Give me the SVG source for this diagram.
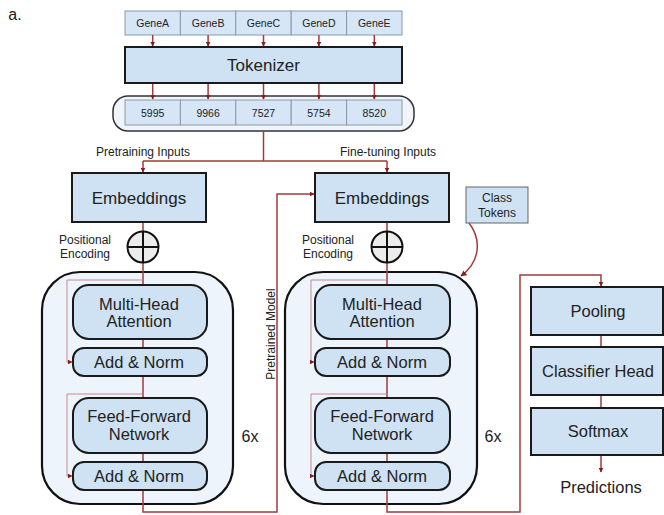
<svg xmlns="http://www.w3.org/2000/svg" width="664" height="515" viewBox="0 0 664 515">
<style>
text{font-family:"Liberation Sans",Arial,sans-serif;fill:#222;text-anchor:middle}
.cell{fill:#d6e6f7;stroke:#8a9aa8;stroke-width:1}
.box{fill:#cfe2f3;stroke:#1a1a1a;stroke-width:2}
.blk{fill:#eef4fb;stroke:#111;stroke-width:2.2}
.con{fill:none;stroke:#a23a3a;stroke-width:1.5}
.res{fill:none;stroke:#c48a8a;stroke-width:1}
.s10{font-size:10.5px}.s12{font-size:12px}.s16{font-size:16.5px}.s17{font-size:17px}
</style>
<defs>
<marker id="ah" viewBox="0 0 10 10" refX="9" refY="5" markerWidth="6" markerHeight="6" orient="auto" markerUnits="userSpaceOnUse">
<path d="M0,0 L10,5 L0,10 z" fill="#8b1a1a"/>
</marker>
<marker id="ahs" viewBox="0 0 10 10" refX="9" refY="5" markerWidth="5" markerHeight="5" orient="auto" markerUnits="userSpaceOnUse">
<path d="M0,0 L10,5 L0,10 z" fill="#8b1a1a"/>
</marker>
</defs>
<rect width="664" height="515" fill="#fff"/>
<text x="15" y="20" style="font-size:16px">a.</text>

<g id="genes">
<rect class="cell" x="125" y="11" width="55.4" height="24"/>
<rect class="cell" x="180.4" y="11" width="55.4" height="24"/>
<rect class="cell" x="235.8" y="11" width="55.4" height="24"/>
<rect class="cell" x="291.2" y="11" width="55.4" height="24"/>
<rect class="cell" x="346.6" y="11" width="55.4" height="24"/>
<text class="s10" x="152.7" y="27">GeneA</text>
<text class="s10" x="208.1" y="27">GeneB</text>
<text class="s10" x="263.5" y="27">GeneC</text>
<text class="s10" x="318.9" y="27">GeneD</text>
<text class="s10" x="374.3" y="27">GeneE</text>
</g>

<g id="tokenizer">
<rect class="box" x="125" y="47" width="277" height="36"/>
<text class="s17" x="263.5" y="71">Tokenizer</text>
</g>

<g id="tokens">
<rect x="113" y="96" width="301" height="35" rx="15" fill="#f0f5fb" stroke="#333" stroke-width="1.5"/>
<rect class="cell" x="125" y="100" width="55.4" height="25"/>
<rect class="cell" x="180.4" y="100" width="55.4" height="25"/>
<rect class="cell" x="235.8" y="100" width="55.4" height="25"/>
<rect class="cell" x="291.2" y="100" width="55.4" height="25"/>
<rect class="cell" x="346.6" y="100" width="55.4" height="25"/>
<text class="s10" x="152.7" y="116.5">5995</text>
<text class="s10" x="208.1" y="116.5">9966</text>
<text class="s10" x="263.5" y="116.5">7527</text>
<text class="s10" x="318.9" y="116.5">5754</text>
<text class="s10" x="374.3" y="116.5">8520</text>
</g>

<g id="labels">
<text class="s12" x="143" y="156">Pretraining Inputs</text>
<text class="s12" x="388" y="156">Fine-tuning Inputs</text>
<text class="s12" x="85" y="244">Positional</text>
<text class="s12" x="85" y="258">Encoding</text>
<text class="s12" x="328" y="244">Positional</text>
<text class="s12" x="328" y="258">Encoding</text>
<text class="s12" transform="translate(275 334) rotate(-90)">Pretrained Model</text>
<text x="250" y="442" style="font-size:16px">6x</text>
<text x="493" y="442" style="font-size:16px">6x</text>
</g>

<g id="block-left">
<rect class="blk" x="42" y="272" width="191" height="232" rx="38"/>
</g>
<g id="block-right">
<rect class="blk" x="285" y="272" width="192" height="232" rx="38"/>
</g>

<g id="connectors">
<path class="con" d="M152.7 35V46" marker-end="url(#ahs)"/>
<path class="con" d="M208.1 35V46" marker-end="url(#ahs)"/>
<path class="con" d="M263.5 35V46" marker-end="url(#ahs)"/>
<path class="con" d="M318.9 35V46" marker-end="url(#ahs)"/>
<path class="con" d="M374.3 35V46" marker-end="url(#ahs)"/>
<path class="con" d="M152.7 84V99" marker-end="url(#ahs)"/>
<path class="con" d="M208.1 84V99" marker-end="url(#ahs)"/>
<path class="con" d="M263.5 84V99" marker-end="url(#ahs)"/>
<path class="con" d="M318.9 84V99" marker-end="url(#ahs)"/>
<path class="con" d="M374.3 84V99" marker-end="url(#ahs)"/>
<path class="con" d="M263.5 131V161"/>
<path class="con" d="M143 161H387"/>
<path class="con" d="M143 161V172" marker-end="url(#ahs)"/>
<path class="con" d="M387 161V172" marker-end="url(#ahs)"/>
<path class="con" d="M143 222V512H277V194H314" marker-end="url(#ahs)"/>
<path class="con" d="M387 222V512H520V275H601V286" marker-end="url(#ahs)"/>
<path class="res" d="M143 280H67V362H72" marker-end="url(#ahs)"/>
<path class="res" d="M143 394H67V476H72" marker-end="url(#ahs)"/>
<path class="res" d="M387 280H311V362H314" marker-end="url(#ahs)"/>
<path class="res" d="M387 394H311V476H314" marker-end="url(#ahs)"/>
<path class="con" d="M469 223C482 240 480 262 461 276" marker-end="url(#ah)"/>
<path class="con" d="M601 335V347M601 395V408"/>
<path class="con" d="M601 455V472" marker-end="url(#ahs)"/>
</g>

<g id="embeddings-left">
<rect class="box" x="72" y="173" width="134" height="49"/>
<text class="s17" x="139" y="204">Embeddings</text>
</g>
<g id="embeddings-right">
<rect class="box" x="315" y="173" width="134" height="49"/>
<text class="s17" x="382" y="204">Embeddings</text>
</g>
<g id="class-tokens">
<rect x="466" y="187" width="62" height="36" fill="#cfe2f3" stroke="#666" stroke-width="1"/>
<text class="s12" x="497" y="202">Class</text>
<text class="s12" x="497" y="217">Tokens</text>
</g>
<g id="posenc-left">
<circle cx="143" cy="247" r="15.5" fill="#ececec" stroke="#111" stroke-width="2"/>
<path d="M127.5 247H158.5M143 231.5V262.5" stroke="#111" stroke-width="2"/>
</g>
<g id="posenc-right">
<circle cx="387" cy="247" r="15.5" fill="#ececec" stroke="#111" stroke-width="2"/>
<path d="M371.5 247H402.5M387 231.5V262.5" stroke="#111" stroke-width="2"/>
</g>

<g id="mha-left">
<rect class="box" x="73" y="285" width="134" height="54" rx="16"/>
<text class="s16" x="139" y="310">Multi-Head</text>
<text class="s16" x="139" y="327">Attention</text>
</g>
<g id="addnorm1-left">
<rect class="box" x="73" y="348" width="134" height="28" rx="11"/>
<text class="s16" x="139" y="368">Add &amp; Norm</text>
</g>
<g id="ffn-left">
<rect class="box" x="73" y="398" width="134" height="55" rx="16"/>
<text class="s16" x="139" y="422">Feed-Forward</text>
<text class="s16" x="139" y="440">Network</text>
</g>
<g id="addnorm2-left">
<rect class="box" x="73" y="462" width="134" height="28" rx="11"/>
<text class="s16" x="139" y="482">Add &amp; Norm</text>
</g>

<g id="mha-right">
<rect class="box" x="315" y="285" width="135" height="54" rx="16"/>
<text class="s16" x="382" y="310">Multi-Head</text>
<text class="s16" x="382" y="327">Attention</text>
</g>
<g id="addnorm1-right">
<rect class="box" x="315" y="348" width="135" height="28" rx="11"/>
<text class="s16" x="382" y="368">Add &amp; Norm</text>
</g>
<g id="ffn-right">
<rect class="box" x="315" y="398" width="135" height="55" rx="16"/>
<text class="s16" x="382" y="422">Feed-Forward</text>
<text class="s16" x="382" y="440">Network</text>
</g>
<g id="addnorm2-right">
<rect class="box" x="315" y="462" width="135" height="28" rx="11"/>
<text class="s16" x="382" y="482">Add &amp; Norm</text>
</g>

<g id="pooling">
<rect class="box" x="531" y="287" width="132" height="48"/>
<text class="s16" x="598" y="317">Pooling</text>
</g>
<g id="classifier-head">
<rect class="box" x="531" y="347" width="132" height="48"/>
<text class="s16" x="598" y="377">Classifier Head</text>
</g>
<g id="softmax">
<rect class="box" x="531" y="408" width="132" height="47"/>
<text class="s16" x="598" y="437">Softmax</text>
</g>
<g id="predictions">
<text class="s16" x="601" y="493">Predictions</text>
</g>
</svg>
